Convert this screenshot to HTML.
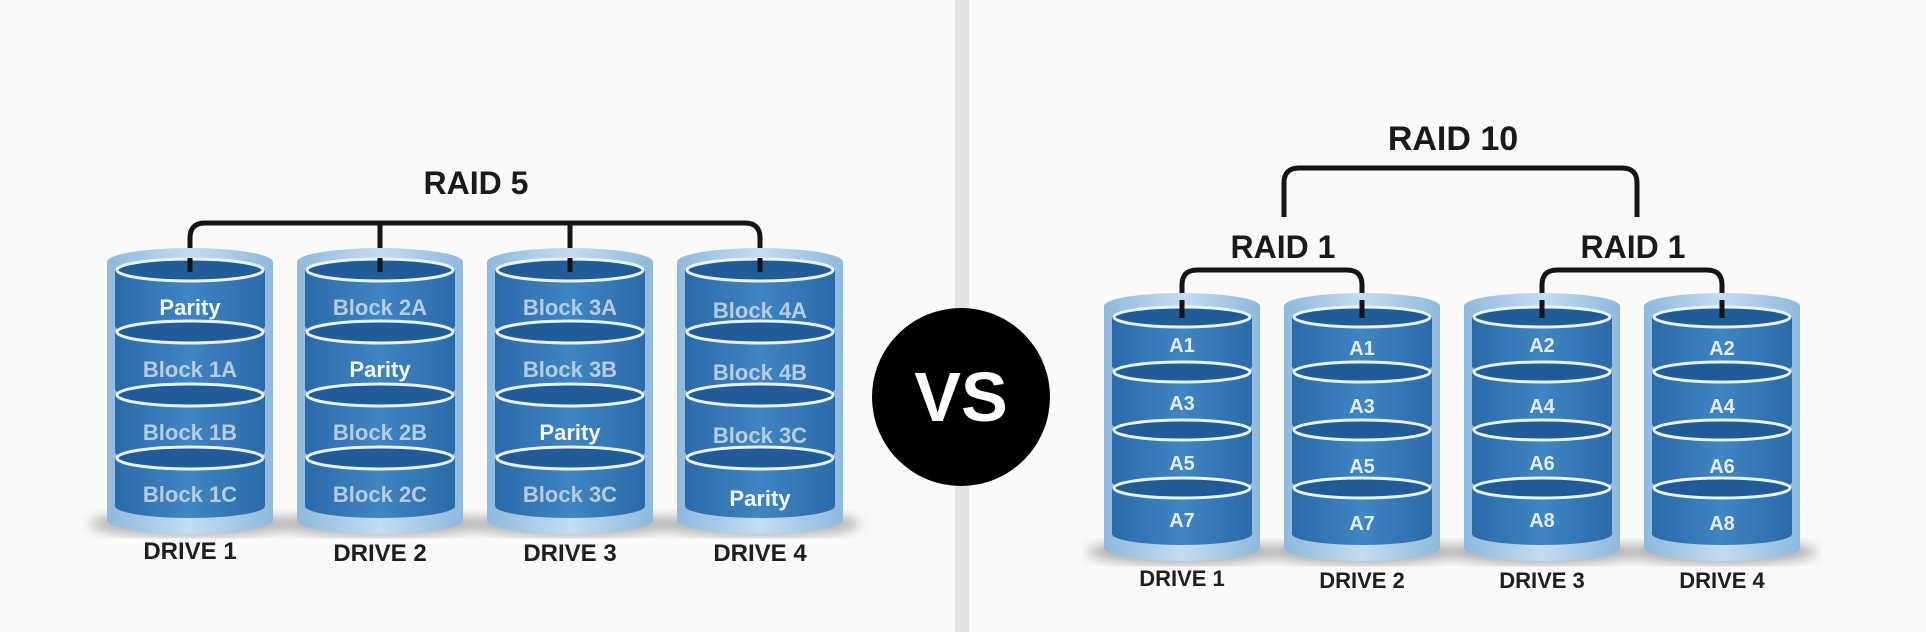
<!DOCTYPE html>
<html><head><meta charset="utf-8"><style>
html,body{margin:0;padding:0;background:#fafafa;}
svg{display:block;}
text{font-family:"Liberation Sans",Arial,sans-serif;font-weight:bold;}
</style></head><body>
<svg width="1926" height="632" viewBox="0 0 1926 632" xmlns="http://www.w3.org/2000/svg">
<defs>
<linearGradient id="band" x1="0" x2="1" y1="0" y2="0">
<stop offset="0" stop-color="#2a6aa8"/><stop offset="0.5" stop-color="#3f86c2"/><stop offset="1" stop-color="#2a6aa8"/>
</linearGradient>
<linearGradient id="glass" x1="0" x2="1" y1="0" y2="0">
<stop offset="0" stop-color="#8fb9de"/><stop offset="0.5" stop-color="#c4dcef"/><stop offset="1" stop-color="#8fb9de"/>
</linearGradient>
<filter id="blur"><feGaussianBlur stdDeviation="6"/></filter>
<g id="L">
<ellipse cx="0" cy="524" rx="100" ry="12" fill="#777" opacity="0.6" filter="url(#blur)"/>
<path d="M-83,262 A83,14 0 0 1 83,262 L83,520 A83,14 0 0 1 -83,520 Z" fill="url(#glass)"/>
<path d="M-75,270 L75,270 L75,326 A75,12 0 0 1 -75,326 Z" fill="url(#band)"/>
<ellipse cx="0" cy="270" rx="73" ry="11" fill="#1f5c98" stroke="#e8f2fa" stroke-width="3"/>
<path d="M-75,332 L75,332 L75,389 A75,12 0 0 1 -75,389 Z" fill="url(#band)"/>
<ellipse cx="0" cy="332" rx="73" ry="11" fill="#1f5c98" stroke="#e8f2fa" stroke-width="3"/>
<path d="M-75,395 L75,395 L75,452 A75,12 0 0 1 -75,452 Z" fill="url(#band)"/>
<ellipse cx="0" cy="395" rx="73" ry="11" fill="#1f5c98" stroke="#e8f2fa" stroke-width="3"/>
<path d="M-75,458 L75,458 L75,506 A75,12 0 0 1 -75,506 Z" fill="url(#band)"/>
<ellipse cx="0" cy="458" rx="73" ry="11" fill="#1f5c98" stroke="#e8f2fa" stroke-width="3"/>
</g>
<g id="R">
<ellipse cx="0" cy="552" rx="95" ry="12" fill="#777" opacity="0.6" filter="url(#blur)"/>
<path d="M-78,306 A78,13 0 0 1 78,306 L78,548 A78,13 0 0 1 -78,548 Z" fill="url(#glass)"/>
<path d="M-70,317 L70,317 L70,366 A70,11 0 0 1 -70,366 Z" fill="url(#band)"/>
<ellipse cx="0" cy="317" rx="68" ry="10" fill="#1f5c98" stroke="#e8f2fa" stroke-width="3"/>
<path d="M-70,372 L70,372 L70,424 A70,11 0 0 1 -70,424 Z" fill="url(#band)"/>
<ellipse cx="0" cy="372" rx="68" ry="10" fill="#1f5c98" stroke="#e8f2fa" stroke-width="3"/>
<path d="M-70,430 L70,430 L70,482 A70,11 0 0 1 -70,482 Z" fill="url(#band)"/>
<ellipse cx="0" cy="430" rx="68" ry="10" fill="#1f5c98" stroke="#e8f2fa" stroke-width="3"/>
<path d="M-70,488 L70,488 L70,534 A70,11 0 0 1 -70,534 Z" fill="url(#band)"/>
<ellipse cx="0" cy="488" rx="68" ry="10" fill="#1f5c98" stroke="#e8f2fa" stroke-width="3"/>
</g>
</defs>
<rect width="1926" height="632" fill="#fafafa"/>
<rect x="955" y="0" width="14" height="632" fill="#e2e2e2"/>

<!-- RAID 5 -->
<text x="476" y="194" font-size="32" text-anchor="middle" fill="#1a1a1a">RAID 5</text>
<path d="M190,272 V238 Q190,223 205,223 H745 Q760,223 760,238 V272 M380,223 V272 M570,223 V272" fill="none" stroke="#151515" stroke-width="5"/>
<use href="#L" transform="translate(190,0)"/>
<use href="#L" transform="translate(380,0)"/>
<use href="#L" transform="translate(570,0)"/>
<use href="#L" transform="translate(760,0)"/>
<path d="M190,258 V272 M380,258 V272 M570,258 V272 M760,258 V272" stroke="#151515" stroke-width="5"/>
<g font-size="22" text-anchor="middle">
<text x="190" y="315" fill="#f4f8fc">Parity</text>
<text x="190" y="377" fill="#b5cde4">Block 1A</text>
<text x="190" y="440" fill="#b5cde4">Block 1B</text>
<text x="190" y="502" fill="#b5cde4">Block 1C</text>
<text x="380" y="315" fill="#b5cde4">Block 2A</text>
<text x="380" y="377" fill="#f4f8fc">Parity</text>
<text x="380" y="440" fill="#b5cde4">Block 2B</text>
<text x="380" y="502" fill="#b5cde4">Block 2C</text>
<text x="570" y="315" fill="#b5cde4">Block 3A</text>
<text x="570" y="377" fill="#b5cde4">Block 3B</text>
<text x="570" y="440" fill="#f4f8fc">Parity</text>
<text x="570" y="502" fill="#b5cde4">Block 3C</text>
<text x="760" y="318" fill="#b5cde4">Block 4A</text>
<text x="760" y="380" fill="#b5cde4">Block 4B</text>
<text x="760" y="443" fill="#b5cde4">Block 3C</text>
<text x="760" y="506" fill="#f4f8fc">Parity</text>
</g>
<g font-size="24" text-anchor="middle" fill="#1e1e1e">
<text x="190" y="559">DRIVE 1</text>
<text x="380" y="561">DRIVE 2</text>
<text x="570" y="561">DRIVE 3</text>
<text x="760" y="561">DRIVE 4</text>
</g>

<!-- VS -->
<circle cx="961" cy="397" r="89" fill="#000"/>
<text x="961" y="421" font-size="70" text-anchor="middle" fill="#fff">VS</text>

<!-- RAID 10 -->
<text x="1453" y="150" font-size="34" text-anchor="middle" fill="#1a1a1a">RAID 10</text>
<path d="M1284,217 V183 Q1284,168 1299,168 H1622 Q1637,168 1637,183 V217" fill="none" stroke="#151515" stroke-width="5"/>
<text x="1283" y="258" font-size="32" text-anchor="middle" fill="#1a1a1a">RAID 1</text>
<text x="1633" y="258" font-size="32" text-anchor="middle" fill="#1a1a1a">RAID 1</text>
<path d="M1182,318 V285 Q1182,270 1197,270 H1347 Q1362,270 1362,285 V318 M1542,318 V285 Q1542,270 1557,270 H1707 Q1722,270 1722,285 V318" fill="none" stroke="#151515" stroke-width="5"/>
<use href="#R" transform="translate(1182,0)"/>
<use href="#R" transform="translate(1362,0)"/>
<use href="#R" transform="translate(1542,0)"/>
<use href="#R" transform="translate(1722,0)"/>
<path d="M1182,300 V318 M1362,300 V318 M1542,300 V318 M1722,300 V318" stroke="#151515" stroke-width="5"/>
<g font-size="20" text-anchor="middle" fill="#e2edf7">
<text x="1182" y="352">A1</text><text x="1182" y="410">A3</text><text x="1182" y="470">A5</text><text x="1182" y="527">A7</text>
<text x="1362" y="355">A1</text><text x="1362" y="413">A3</text><text x="1362" y="473">A5</text><text x="1362" y="530">A7</text>
<text x="1542" y="352">A2</text><text x="1542" y="413">A4</text><text x="1542" y="470">A6</text><text x="1542" y="527">A8</text>
<text x="1722" y="355">A2</text><text x="1722" y="413">A4</text><text x="1722" y="473">A6</text><text x="1722" y="530">A8</text>
</g>
<g font-size="22" text-anchor="middle" fill="#1e1e1e">
<text x="1182" y="586">DRIVE 1</text>
<text x="1362" y="588">DRIVE 2</text>
<text x="1542" y="588">DRIVE 3</text>
<text x="1722" y="588">DRIVE 4</text>
</g>
</svg>
</body></html>
